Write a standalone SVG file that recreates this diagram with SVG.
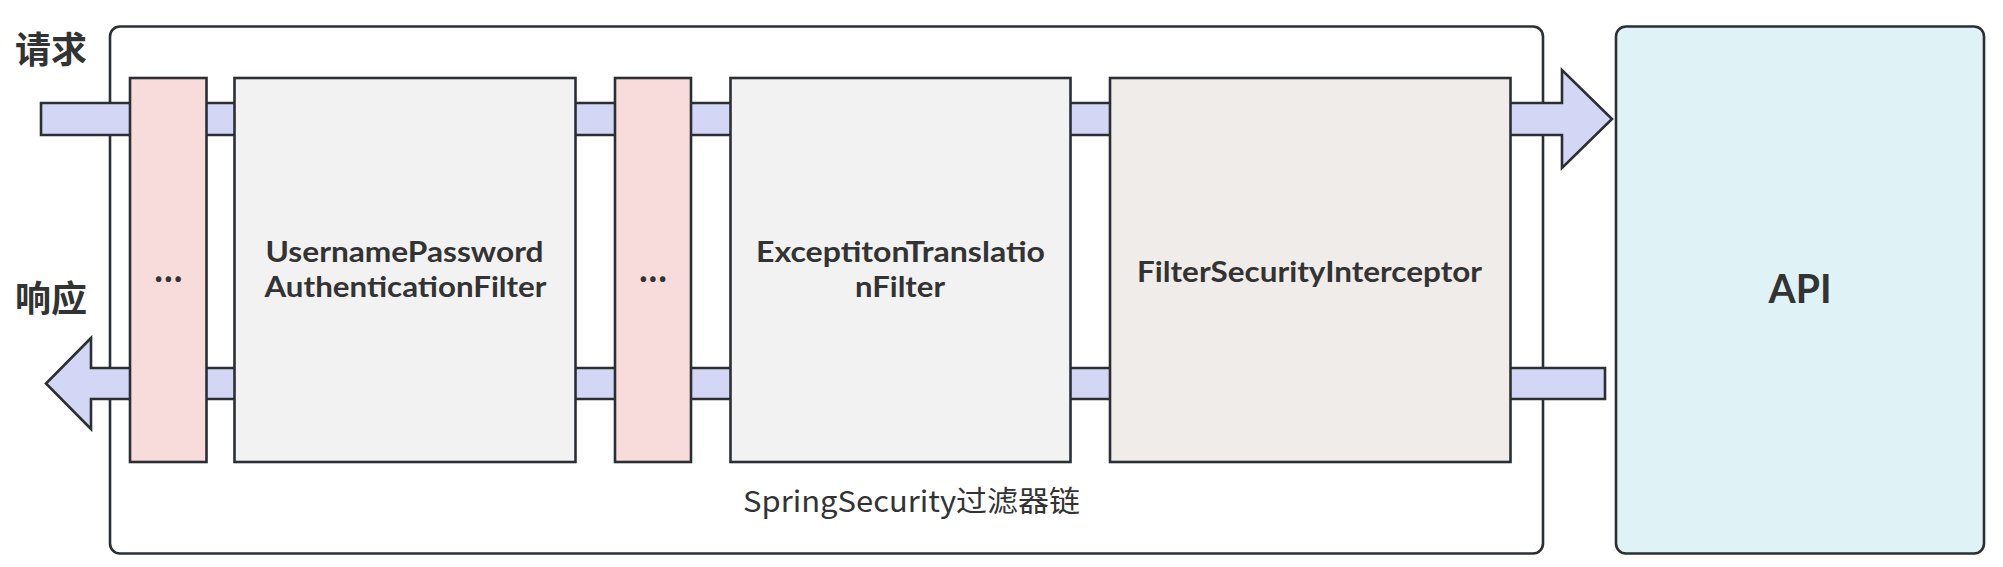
<svg xmlns="http://www.w3.org/2000/svg" width="2003" height="567" viewBox="0 0 2003 567">
<style>
.ln{stroke:#2b2f34;stroke-width:2.6;stroke-linejoin:miter}
.band{fill:#d4d6f5}
.pink{fill:#f8dcdc}
.gray{fill:#f2f2f2}
.warm{fill:#f0ecea}
.t{font-family:"Noto Sans CJK SC","Noto Sans",sans-serif;fill:#333333;text-anchor:middle}
.l{font-family:Lato,"Noto Sans",sans-serif;font-weight:bold;fill:#333333;text-anchor:middle}
.b{font-weight:bold}
</style>
<rect width="2003" height="567" fill="#ffffff"/>
<g id="container">
<rect class="ln" x="110" y="26.5" width="1433" height="527" rx="10" fill="#ffffff"/>
<text class="t" x="911.5" y="512" font-size="29" textLength="337" lengthAdjust="spacingAndGlyphs">SpringSecurity过滤器链</text>
</g>
<g id="api">
<rect class="ln" x="1616" y="26.5" width="368" height="527" rx="10" fill="#dff3f6"/>
<text class="l" x="1800" y="303" font-size="41" textLength="63" lengthAdjust="spacingAndGlyphs">API</text>
</g>
<g id="labels">
<text class="t b" x="51" y="63" font-size="36">请求</text>
<text class="t b" x="51" y="312" font-size="36">响应</text>
</g>
<g id="connectors">
<polygon class="ln band" points="41,103 1562,103 1562,70 1612,119 1562,168 1562,135 41,135"/>
<polygon class="ln band" points="1605,368 91,368 91,338 46,383.5 91,429 91,399 1605,399"/>
</g>
<g id="filter-dots-1">
<rect class="ln pink" x="130" y="78" width="76.5" height="384"/>
<text class="t b" x="168.3" y="282" font-size="30">...</text>
</g>
<g id="filter-username">
<rect class="ln gray" x="234.5" y="78" width="341" height="384"/>
<text class="l" x="404.5" y="262" font-size="28" textLength="278" lengthAdjust="spacingAndGlyphs">UsernamePassword</text>
<text class="l" x="405.5" y="297" font-size="28" textLength="282" lengthAdjust="spacingAndGlyphs">AuthenticationFilter</text>
</g>
<g id="filter-dots-2">
<rect class="ln pink" x="615" y="78" width="76" height="384"/>
<text class="t b" x="653" y="282" font-size="30">...</text>
</g>
<g id="filter-exception">
<rect class="ln gray" x="730.5" y="78" width="340" height="384"/>
<text class="l" x="900.5" y="262" font-size="28" textLength="289" lengthAdjust="spacingAndGlyphs">ExceptitonTranslatio</text>
<text class="l" x="900" y="297" font-size="28" textLength="90" lengthAdjust="spacingAndGlyphs">nFilter</text>
</g>
<g id="filter-security-interceptor">
<rect class="ln warm" x="1110" y="78" width="400.5" height="384"/>
<text class="l" x="1309.5" y="282" font-size="28" textLength="345" lengthAdjust="spacingAndGlyphs">FilterSecurityInterceptor</text>
</g>
</svg>
